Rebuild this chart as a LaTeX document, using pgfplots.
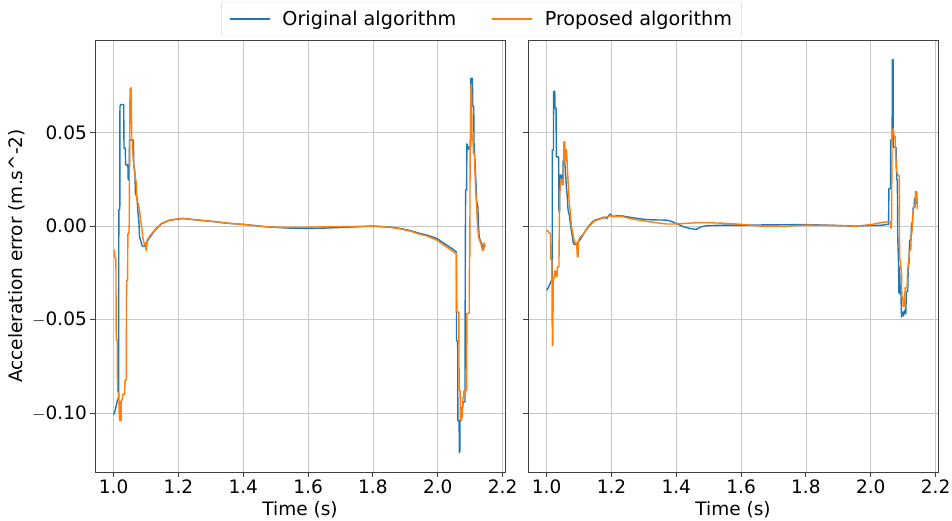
\documentclass[border=0pt]{standalone}
\usepackage{fontspec}
\setmainfont{DejaVu Sans}
\usepackage{pgfplots}
\pgfplotsset{compat=1.18}
\definecolor{tabblue}{HTML}{1F77B4}
\definecolor{taborange}{HTML}{FF7F0E}
\definecolor{gridgray}{HTML}{C8C8C8}
\newcommand{\bigf}{\fontsize{18.5}{22}\selectfont}
\newcommand{\legf}{\fontsize{19.2}{22}\selectfont}
\pgfplotsset{
  panel/.style={
    scale only axis, width=410pt, height=432pt,
    xmin=0.9425, xmax=2.2075, ymin=-0.1315, ymax=0.0995,
    xtick={1.0,1.2,1.4,1.6,1.8,2.0,2.2},
    xticklabels={1.0,1.2,1.4,1.6,1.8,2.0,2.2},
    ytick={-0.10,-0.05,0,0.05},
    grid=major,
    major grid style={line width=0.8pt, color=gridgray},
    axis line style={line width=0.9pt, black!75},
    tick align=outside, major tick length=4.6pt,
    tick style={line width=0.9pt, black!75},
    xtick pos=bottom, ytick pos=left,
    tick label style={font=\bigf},
    label style={font=\bigf},
    xlabel={Time (s)},
    clip=true,
  },
  blueline/.style={tabblue, line width=1.4pt, line join=round},
  orangeline/.style={taborange, line width=1.4pt, line join=round},
}
\begin{document}
\begin{tikzpicture}
\path[use as bounding box] (0,0) rectangle (952pt,520pt);
\begin{axis}[panel, at={(95pt,48pt)}, anchor=south west,
  yticklabels={$-$0.10,$-$0.05,0.00,0.05},
  ylabel={Acceleration error (m.s\textasciicircum-2)},
  legend style={at={(0.9427,1.0486)}, anchor=center, legend columns=2,
    draw=black!15, rounded corners=2pt, font=\legf,
    inner xsep=7.5pt, inner ysep=7pt,
    /tikz/every odd column/.append style={column sep=10pt},
    /tikz/every even column/.append style={column sep=33pt}},
  legend image code/.code={\draw[#1] (0pt,0pt) -- (40pt,0pt);},
]
\addplot[blueline] coordinates {
(1.000,-0.1008) (1.004,-0.099) (1.008,-0.096) (1.013,-0.0924) (1.0155,-0.092) (1.016,0.0086) (1.019,0.009) (1.0195,0.064) (1.022,0.065) (1.031,0.065) (1.032,0.0417) (1.036,0.0417) (1.037,0.0327) (1.044,0.0327) (1.045,0.0247) (1.048,0.0247) (1.049,0.046) (1.061,0.046) (1.062,0.033) (1.066,0.028) (1.067,0.018) (1.072,0.015) (1.075,0.0077) (1.078,0.002) (1.080,-0.0057) (1.084,-0.008) (1.087,-0.0102) (1.092,-0.011) (1.096,-0.0105) (1.104,-0.008) (1.113,-0.0057) (1.128,-0.0021) (1.149,0.0014) (1.17,0.003) (1.19,0.0036) (1.215,0.0040) (1.25,0.0034) (1.313,0.0023) (1.35,0.0015) (1.40,0.0009) (1.472,-0.0004) (1.53,-0.0010) (1.595,-0.0013) (1.65,-0.0011) (1.72,-0.0006) (1.80,0.0) (1.85,-0.0005) (1.882,-0.0012) (1.915,-0.0024) (1.944,-0.0039) (1.97,-0.0050) (1.997,-0.0066) (2.026,-0.010) (2.045,-0.0122) (2.057,-0.0138) (2.058,-0.061) (2.0615,-0.062) (2.062,-0.104) (2.066,-0.104) (2.0665,-0.121) (2.068,-0.121) (2.0685,-0.104) (2.071,-0.104) (2.072,-0.097) (2.077,-0.097) (2.078,-0.094) (2.084,-0.094) (2.085,-0.0145) (2.086,0.0193) (2.089,0.0193) (2.09,0.044) (2.095,0.041) (2.098,0.0425) (2.1015,0.0425) (2.102,0.079) (2.107,0.079) (2.108,0.064) (2.111,0.064) (2.112,0.044) (2.116,0.030) (2.118,0.023) (2.12,0.013) (2.124,0.010) (2.125,0.0016) (2.128,-0.006) (2.131,-0.0075) (2.135,-0.009) (2.138,-0.011) (2.140,-0.013) (2.144,-0.010)
};
\addlegendentry{Original algorithm}
\addplot[orangeline] coordinates {
(1.000,-0.0129) (1.003,-0.0135) (1.004,-0.017) (1.007,-0.017) (1.008,-0.061) (1.011,-0.061) (1.012,-0.088) (1.016,-0.090) (1.0175,-0.103) (1.019,-0.104) (1.0195,-0.094) (1.021,-0.094) (1.0215,-0.104) (1.023,-0.104) (1.0235,-0.093) (1.027,-0.093) (1.028,-0.090) (1.034,-0.090) (1.035,-0.0825) (1.039,-0.0825) (1.040,-0.029) (1.043,-0.029) (1.044,-0.004) (1.047,-0.004) (1.048,0.0) (1.0505,0.073) (1.054,0.074) (1.056,0.046) (1.058,0.046) (1.060,0.037) (1.064,0.030) (1.067,0.026) (1.070,0.023) (1.072,0.014) (1.076,0.012) (1.080,0.0086) (1.083,0.003) (1.087,-0.001) (1.090,-0.006) (1.095,-0.010) (1.099,-0.010) (1.100,-0.0129) (1.102,-0.0129) (1.103,-0.0075) (1.108,-0.0065) (1.113,-0.005) (1.128,-0.0018) (1.149,0.0016) (1.17,0.003) (1.19,0.0036) (1.21,0.0042) (1.25,0.0034) (1.313,0.0024) (1.35,0.0016) (1.40,0.0009) (1.472,-0.0004) (1.53,-0.0007) (1.595,-0.0006) (1.65,-0.0004) (1.72,-0.0003) (1.80,0.0) (1.85,-0.0006) (1.882,-0.0014) (1.915,-0.0027) (1.944,-0.0043) (1.97,-0.0055) (1.997,-0.0075) (2.026,-0.011) (2.045,-0.0133) (2.058,-0.0148) (2.059,-0.046) (2.065,-0.046) (2.066,-0.088) (2.069,-0.088) (2.070,-0.104) (2.073,-0.104) (2.074,-0.1025) (2.076,-0.102) (2.077,-0.092) (2.080,-0.092) (2.081,-0.088) (2.089,-0.088) (2.090,-0.0467) (2.097,-0.0467) (2.098,-0.0165) (2.099,-0.0165) (2.100,0.046) (2.101,0.046) (2.102,0.0747) (2.104,0.0747) (2.106,0.046) (2.109,0.046) (2.110,0.039) (2.113,0.039) (2.115,0.028) (2.118,0.016) (2.120,0.010) (2.122,0.002) (2.126,-0.006) (2.130,-0.008) (2.134,-0.010) (2.138,-0.013) (2.141,-0.013) (2.143,-0.009) (2.147,-0.011)
};
\addlegendentry{Proposed algorithm}
\end{axis}
\begin{axis}[panel, at={(528pt,48pt)}, anchor=south west, yticklabels={}]
\addplot[blueline] coordinates {
(1.000,-0.0343) (1.005,-0.033) (1.010,-0.031) (1.015,-0.029) (1.017,-0.029) (1.0175,0.0407) (1.021,0.0407) (1.0215,0.072) (1.025,0.072) (1.026,0.063) (1.029,0.063) (1.030,0.037) (1.037,0.037) (1.038,0.0077) (1.040,0.0077) (1.041,0.0273) (1.045,0.0273) (1.046,0.026) (1.050,0.022) (1.051,0.035) (1.055,0.035) (1.057,0.032) (1.061,0.021) (1.064,0.015) (1.066,0.0086) (1.070,0.006) (1.074,0.000) (1.078,-0.004) (1.082,-0.009) (1.088,-0.010) (1.092,-0.010) (1.100,-0.008) (1.108,-0.006) (1.118,-0.003) (1.128,-0.0004) (1.14,0.002) (1.149,0.0032) (1.165,0.004) (1.179,0.0048) (1.185,0.004) (1.195,0.0064) (1.205,0.005) (1.215,0.0055) (1.231,0.0055) (1.26,0.0046) (1.30,0.0036) (1.33,0.0033) (1.369,0.0032) (1.385,0.0025) (1.40,0.0014) (1.42,-0.0002) (1.44,-0.0012) (1.4615,-0.0018) (1.475,-0.0005) (1.492,0.0002) (1.55,0.0005) (1.595,0.0005) (1.66,0.0006) (1.728,0.0007) (1.80,0.0008) (1.88,0.0004) (1.954,0.0) (2.00,0.0003) (2.036,0.0005) (2.055,0.001) (2.056,0.020) (2.061,0.020) (2.0615,0.046) (2.066,0.046) (2.0665,0.089) (2.069,0.089) (2.0695,0.043) (2.072,0.042) (2.078,0.042) (2.080,0.025) (2.082,0.025) (2.0835,-0.0075) (2.086,-0.022) (2.087,-0.036) (2.089,-0.022) (2.091,-0.036) (2.093,-0.036) (2.095,-0.0486) (2.099,-0.046) (2.101,-0.048) (2.104,-0.045) (2.108,-0.047) (2.110,-0.035) (2.114,-0.035) (2.116,-0.02) (2.118,-0.02) (2.120,-0.0075) (2.124,-0.0075) (2.126,0.0014) (2.129,0.0014) (2.131,0.010) (2.134,0.010) (2.135,0.015) (2.138,0.013) (2.140,0.012) (2.142,0.015)
};
\addplot[orangeline] coordinates {
(1.000,-0.0021) (1.005,-0.003) (1.010,-0.004) (1.012,-0.004) (1.013,-0.018) (1.016,-0.018) (1.0175,-0.0638) (1.019,-0.0638) (1.0205,-0.028) (1.023,-0.028) (1.025,-0.024) (1.028,-0.024) (1.029,-0.027) (1.032,-0.027) (1.033,-0.0218) (1.038,-0.0218) (1.040,0.0193) (1.042,0.0193) (1.044,0.025) (1.048,0.025) (1.050,0.0225) (1.052,0.0225) (1.053,0.045) (1.056,0.045) (1.058,0.035) (1.060,0.035) (1.061,0.041) (1.063,0.035) (1.066,0.024) (1.068,0.018) (1.070,0.012) (1.074,0.006) (1.076,0.0) (1.080,-0.003) (1.083,-0.006) (1.087,-0.009) (1.092,-0.009) (1.095,-0.0165) (1.097,-0.0165) (1.098,-0.008) (1.103,-0.006) (1.110,-0.005) (1.118,-0.003) (1.128,-0.0008) (1.14,0.0015) (1.149,0.0028) (1.165,0.0038) (1.179,0.0045) (1.195,0.0055) (1.21,0.0052) (1.231,0.0052) (1.256,0.0041) (1.29,0.003) (1.318,0.0023) (1.369,0.0011) (1.40,0.0011) (1.4615,0.0018) (1.50,0.0018) (1.55,0.0015) (1.595,0.001) (1.66,0.0) (1.728,-0.0001) (1.80,0.0005) (1.88,0.0004) (1.954,-0.0001) (2.00,0.0008) (2.036,0.002) (2.056,0.0023) (2.060,0.0023) (2.062,-0.001) (2.064,-0.001) (2.066,0.0515) (2.070,0.052) (2.072,0.048) (2.075,0.048) (2.079,0.030) (2.084,0.027) (2.088,0.027) (2.089,-0.0165) (2.092,-0.020) (2.095,-0.025) (2.096,-0.038) (2.099,-0.038) (2.100,-0.043) (2.104,-0.043) (2.106,-0.033) (2.112,-0.033) (2.114,-0.022) (2.117,-0.022) (2.119,-0.013) (2.123,-0.013) (2.125,-0.004) (2.127,-0.004) (2.129,0.005) (2.133,0.010) (2.137,0.010) (2.138,0.0184) (2.142,0.0184) (2.144,0.009)
};
\end{axis}
\end{tikzpicture}
\end{document}
